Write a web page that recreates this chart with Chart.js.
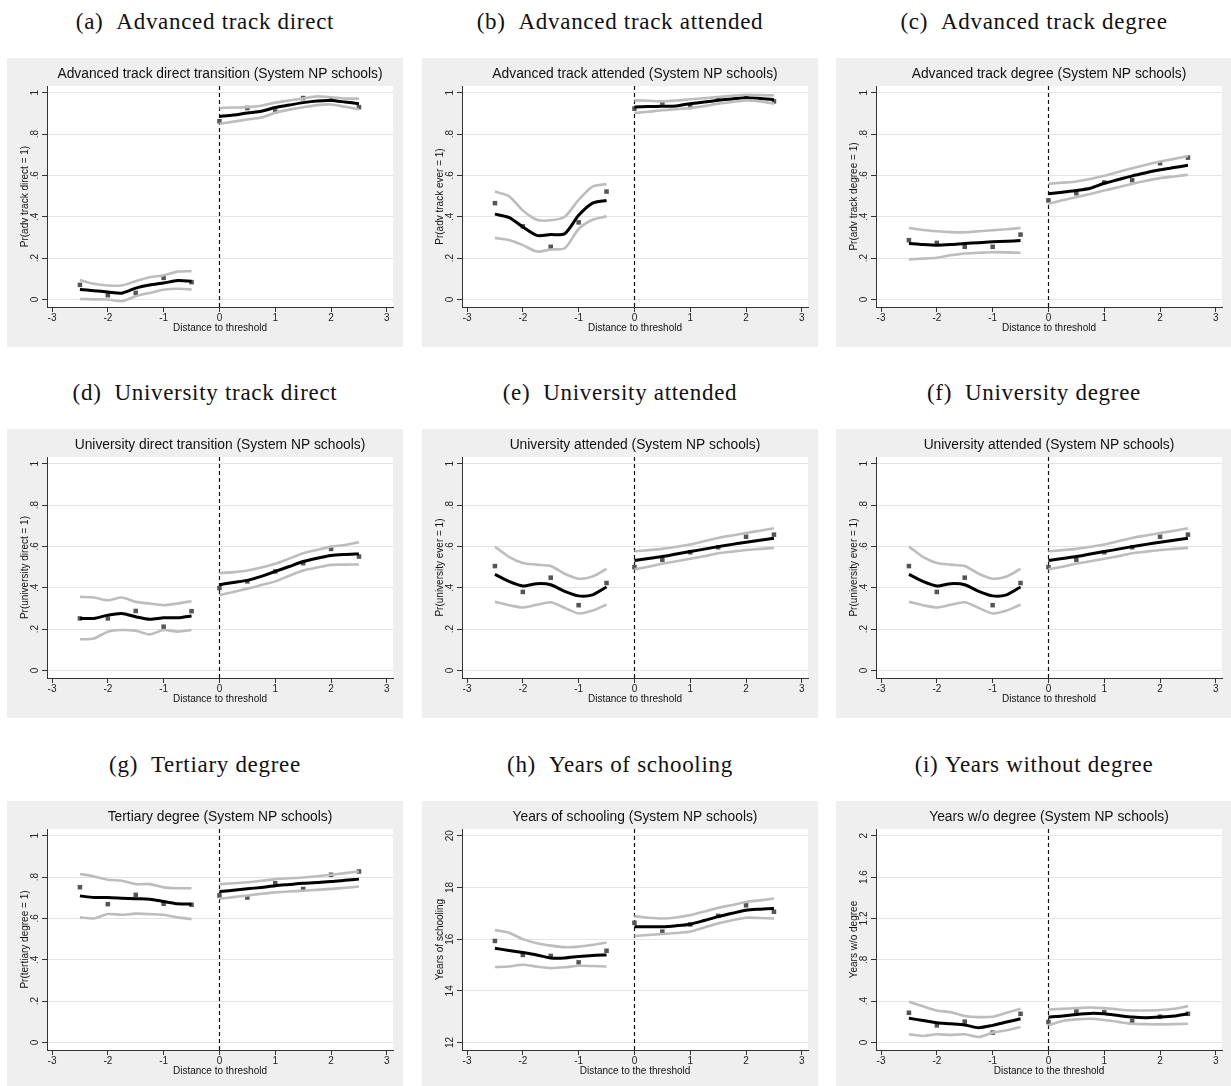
<!DOCTYPE html>
<html lang="en">
<head>
<meta charset="UTF-8">
<title>RD plots, System NP schools</title>
<script src="https://cdn.jsdelivr.net/npm/chart.js"></script>
<style>
  body { margin: 0; background: #fff; width: 1231px; height: 1086px; overflow: hidden; position: relative; }
  .cap { position: absolute; width: 396px; text-align: center; font-family: 'Liberation Serif', 'Times New Roman', serif;
         font-size: 23px; line-height: 24px; color: #111; letter-spacing: 0.7px; white-space: nowrap; }
  .panel { position: absolute; width: 396px; height: 289px; background: #efefef; }
  .panel canvas { display: block; }
</style>
</head>
<body>
<div class="cap" style="left:7px;top:10px">(a)&nbsp;&nbsp;Advanced track direct</div>
<div class="cap" style="left:422px;top:10px">(b)&nbsp;&nbsp;Advanced track attended</div>
<div class="cap" style="left:836px;top:10px">(c)&nbsp;&nbsp;Advanced track degree</div>
<div class="cap" style="left:7px;top:381px">(d)&nbsp;&nbsp;University track direct</div>
<div class="cap" style="left:422px;top:381px">(e)&nbsp;&nbsp;University attended</div>
<div class="cap" style="left:836px;top:381px">(f)&nbsp;&nbsp;University degree</div>
<div class="cap" style="left:7px;top:753px">(g)&nbsp;&nbsp;Tertiary degree</div>
<div class="cap" style="left:422px;top:753px">(h)&nbsp;&nbsp;Years of schooling</div>
<div class="cap" style="left:836px;top:753px">(i)&nbsp;Years without degree</div>

<div class="panel" style="left:7px;top:58px"><canvas id="pa" width="396" height="289"></canvas></div>
<div class="panel" style="left:422px;top:58px"><canvas id="pb" width="396" height="289"></canvas></div>
<div class="panel" style="left:836px;top:58px"><canvas id="pc" width="396" height="289"></canvas></div>
<div class="panel" style="left:7px;top:429px"><canvas id="pd" width="396" height="289"></canvas></div>
<div class="panel" style="left:422px;top:429px"><canvas id="pe" width="396" height="289"></canvas></div>
<div class="panel" style="left:836px;top:429px"><canvas id="pf" width="396" height="289"></canvas></div>
<div class="panel" style="left:7px;top:801px"><canvas id="pg" width="396" height="289"></canvas></div>
<div class="panel" style="left:422px;top:801px"><canvas id="ph" width="396" height="289"></canvas></div>
<div class="panel" style="left:836px;top:801px"><canvas id="pi" width="396" height="289"></canvas></div>

<script>
// x positions shared by all panels
const xFitL = [-2.5, -2.25, -2, -1.75, -1.5, -1.25, -1, -0.75, -0.5];
const xFitR = [0, 0.25, 0.5, 0.75, 1, 1.25, 1.5, 1.75, 2, 2.25, 2.5];
const xBins = [-2.5, -2, -1.5, -1, -0.5, 0, 0.5, 1, 1.5, 2, 2.5];
const xTicks = [-3, -2, -1, 0, 1, 2, 3];
const xRange = [-3.09, 3.11];
const thresholdX = 0;

// y axes
const probTicks = [0, 0.2, 0.4, 0.6, 0.8, 1];
const probLabels = ['0', '.2', '.4', '.6', '.8', '1'];
const probRange = [-0.036, 1.032];
const schoolTicks = [12, 14, 16, 18, 20];
const schoolLabels = ['12', '14', '16', '18', '20'];
const schoolRange = [11.71, 20.26];
const yearsTicks = [0, 0.4, 0.8, 1.2, 1.6, 2];
const yearsLabels = ['0', '.4', '.8', '1.2', '1.6', '2'];
const yearsRange = [-0.072, 2.064];

// (a) advanced track direct
const aFitL = [0.049, 0.043, 0.037, 0.031, 0.055, 0.070, 0.080, 0.092, 0.089];
const aUpL  = [0.094, 0.076, 0.068, 0.068, 0.089, 0.108, 0.117, 0.135, 0.137];
const aLoL  = [0.003, 0.001, 0.000, -0.008, 0.016, 0.032, 0.047, 0.052, 0.049];
const aFitR = [0.885, 0.892, 0.902, 0.910, 0.928, 0.940, 0.952, 0.960, 0.962, 0.955, 0.947];
const aUpR  = [0.926, 0.928, 0.930, 0.937, 0.952, 0.962, 0.972, 0.982, 0.978, 0.972, 0.971];
const aLoR  = [0.850, 0.860, 0.870, 0.880, 0.903, 0.918, 0.930, 0.940, 0.943, 0.932, 0.920];
const aBins = [0.071, 0.021, 0.032, 0.105, 0.084, 0.862, 0.926, 0.909, 0.974, 0.966, 0.930];

// (b) advanced track attended
const bFitL = [0.413, 0.397, 0.351, 0.310, 0.314, 0.318, 0.407, 0.466, 0.479];
const bUpL  = [0.522, 0.500, 0.431, 0.386, 0.383, 0.400, 0.482, 0.546, 0.558];
const bLoL  = [0.298, 0.288, 0.263, 0.232, 0.242, 0.248, 0.341, 0.386, 0.402];
const bFitR = [0.931, 0.933, 0.934, 0.936, 0.947, 0.955, 0.963, 0.970, 0.976, 0.972, 0.966];
const bUpR  = [0.963, 0.961, 0.958, 0.962, 0.968, 0.973, 0.979, 0.985, 0.990, 0.988, 0.987];
const bLoR  = [0.902, 0.908, 0.915, 0.920, 0.926, 0.935, 0.947, 0.955, 0.963, 0.958, 0.947];
const bBins = [0.466, 0.354, 0.255, 0.373, 0.522, 0.923, 0.952, 0.931, 0.971, 0.976, 0.958];

// (c) advanced track degree
const cFitL = [0.271, 0.266, 0.263, 0.266, 0.271, 0.275, 0.279, 0.282, 0.285];
const cUpL  = [0.346, 0.336, 0.330, 0.326, 0.325, 0.330, 0.335, 0.340, 0.346];
const cLoL  = [0.194, 0.198, 0.202, 0.214, 0.223, 0.226, 0.229, 0.228, 0.226];
const cFitR = [0.511, 0.519, 0.527, 0.538, 0.562, 0.580, 0.598, 0.613, 0.627, 0.638, 0.649];
const cUpR  = [0.559, 0.565, 0.571, 0.583, 0.598, 0.617, 0.635, 0.652, 0.667, 0.680, 0.694];
const cLoR  = [0.463, 0.480, 0.495, 0.510, 0.527, 0.543, 0.559, 0.574, 0.587, 0.595, 0.603];
const cBins = [0.287, 0.274, 0.255, 0.255, 0.314, 0.479, 0.514, 0.566, 0.577, 0.659, 0.686];

// (d) university direct
const dFitL = [0.252, 0.252, 0.268, 0.276, 0.260, 0.248, 0.255, 0.255, 0.264];
const dUpL  = [0.356, 0.353, 0.340, 0.353, 0.332, 0.324, 0.316, 0.324, 0.335];
const dLoL  = [0.151, 0.155, 0.188, 0.196, 0.192, 0.175, 0.196, 0.188, 0.196];
const dFitR = [0.415, 0.426, 0.436, 0.455, 0.479, 0.503, 0.527, 0.543, 0.556, 0.561, 0.564];
const dUpR  = [0.471, 0.476, 0.484, 0.498, 0.516, 0.541, 0.567, 0.583, 0.599, 0.607, 0.620];
const dLoR  = [0.364, 0.380, 0.396, 0.413, 0.431, 0.458, 0.484, 0.498, 0.511, 0.512, 0.513];
const dBins = [0.252, 0.252, 0.288, 0.212, 0.287, 0.399, 0.431, 0.479, 0.519, 0.588, 0.551];

// (e) university attended (panel f shows the same series)
const eFitL = [0.465, 0.431, 0.409, 0.420, 0.415, 0.383, 0.361, 0.366, 0.404];
const eUpL  = [0.599, 0.550, 0.520, 0.512, 0.505, 0.468, 0.444, 0.455, 0.492];
const eLoL  = [0.332, 0.316, 0.305, 0.318, 0.330, 0.303, 0.276, 0.290, 0.319];
const eFitR = [0.532, 0.542, 0.551, 0.563, 0.575, 0.587, 0.599, 0.610, 0.620, 0.630, 0.639];
const eUpR  = [0.577, 0.582, 0.588, 0.598, 0.609, 0.625, 0.641, 0.653, 0.665, 0.676, 0.688];
const eLoR  = [0.489, 0.502, 0.516, 0.528, 0.540, 0.553, 0.567, 0.575, 0.583, 0.588, 0.593];
const eBins = [0.505, 0.380, 0.449, 0.316, 0.423, 0.500, 0.535, 0.572, 0.596, 0.647, 0.657];

// (g) tertiary degree
const gFitL = [0.709, 0.701, 0.701, 0.698, 0.695, 0.693, 0.682, 0.671, 0.669];
const gUpL  = [0.815, 0.803, 0.787, 0.782, 0.766, 0.766, 0.750, 0.746, 0.746];
const gLoL  = [0.605, 0.600, 0.621, 0.618, 0.623, 0.621, 0.618, 0.605, 0.597];
const gFitR = [0.730, 0.736, 0.743, 0.750, 0.758, 0.764, 0.770, 0.774, 0.778, 0.784, 0.790];
const gUpR  = [0.766, 0.770, 0.775, 0.782, 0.790, 0.794, 0.798, 0.804, 0.811, 0.819, 0.827];
const gLoR  = [0.695, 0.703, 0.711, 0.719, 0.726, 0.730, 0.734, 0.738, 0.743, 0.748, 0.754];
const gBins = [0.751, 0.669, 0.714, 0.671, 0.666, 0.711, 0.701, 0.770, 0.742, 0.811, 0.827];

// (h) years of schooling
const hFitL = [15.65, 15.56, 15.48, 15.39, 15.27, 15.27, 15.33, 15.37, 15.39];
const hUpL  = [16.35, 16.25, 16.00, 15.84, 15.75, 15.69, 15.71, 15.78, 15.87];
const hLoL  = [14.92, 14.94, 15.01, 14.94, 14.88, 14.91, 14.97, 14.96, 14.94];
const hFitR = [16.48, 16.48, 16.48, 16.52, 16.58, 16.72, 16.87, 17.00, 17.12, 17.16, 17.19];
const hUpR  = [16.89, 16.83, 16.80, 16.84, 16.93, 17.07, 17.21, 17.32, 17.44, 17.50, 17.57];
const hLoR  = [16.12, 16.16, 16.20, 16.24, 16.29, 16.45, 16.61, 16.73, 16.83, 16.82, 16.80];
const hBins = [15.93, 15.39, 15.35, 15.10, 15.55, 16.63, 16.29, 16.57, 16.90, 17.31, 17.06];

// (i) years without degree
const iFitL = [0.234, 0.214, 0.192, 0.182, 0.170, 0.144, 0.166, 0.198, 0.230];
const iUpL  = [0.394, 0.352, 0.310, 0.294, 0.256, 0.246, 0.250, 0.288, 0.326];
const iLoL  = [0.080, 0.064, 0.080, 0.074, 0.080, 0.054, 0.096, 0.118, 0.150];
const iFitR = [0.246, 0.256, 0.272, 0.282, 0.278, 0.262, 0.246, 0.240, 0.246, 0.256, 0.278];
const iUpR  = [0.320, 0.326, 0.333, 0.339, 0.333, 0.320, 0.310, 0.310, 0.314, 0.326, 0.352];
const iLoR  = [0.166, 0.208, 0.224, 0.230, 0.218, 0.200, 0.182, 0.178, 0.176, 0.178, 0.182];
const iBins = [0.288, 0.166, 0.202, 0.096, 0.278, 0.198, 0.304, 0.294, 0.208, 0.250, 0.278];

Chart.defaults.font.family = "'Liberation Sans', Arial, Helvetica, sans-serif";

const plotBackground = {
  id: 'plotBackground',
  beforeDraw(chart) {
    const {ctx, chartArea} = chart;
    ctx.save();
    ctx.fillStyle = '#ffffff';
    ctx.fillRect(chartArea.left, chartArea.top, chartArea.right - chartArea.left, chartArea.bottom - chartArea.top);
    ctx.restore();
  }
};

const thresholdLine = {
  id: 'thresholdLine',
  beforeDatasetsDraw(chart) {
    const {ctx, chartArea, scales} = chart;
    const x = Math.round(scales.x.getPixelForValue(thresholdX)) + 0.5;
    ctx.save();
    ctx.strokeStyle = '#111';
    ctx.lineWidth = 1.2;
    ctx.setLineDash([4, 3]);
    ctx.beginPath();
    ctx.moveTo(x, chartArea.top);
    ctx.lineTo(x, chartArea.bottom);
    ctx.stroke();
    ctx.restore();
  }
};

function pts(xs, ys) {
  return xs.map((x, i) => ({x: x, y: ys[i]}));
}

// yPad keeps the rotated tick labels at the same distance from the axis whatever their width
function makePanel(id, title, yTitle, xTitle, yTicks, yLabels, yRange, yPad, fitL, upL, loL, fitR, upR, loR, bins) {
  const band = {borderColor: '#bdbdbd', borderWidth: 2.6, pointRadius: 0, tension: 0.25, fill: false};
  const fit = {borderColor: '#000000', borderWidth: 3, pointRadius: 0, tension: 0.25, fill: false};
  new Chart(document.getElementById(id), {
    type: 'line',
    data: {
      datasets: [
        {...band, data: pts(xFitL, upL)},
        {...band, data: pts(xFitL, loL)},
        {...band, data: pts(xFitR, upR)},
        {...band, data: pts(xFitR, loR)},
        {...fit, data: pts(xFitL, fitL)},
        {...fit, data: pts(xFitR, fitR)},
        {
          type: 'scatter', data: pts(xBins, bins), showLine: false,
          pointStyle: 'rect', pointRadius: 3.2, borderWidth: 0,
          backgroundColor: '#555555', borderColor: '#555555'
        }
      ]
    },
    options: {
      responsive: false,
      animation: false,
      devicePixelRatio: 1,
      layout: {padding: {left: 7, right: 10, top: 0, bottom: 11}},
      plugins: {
        legend: {display: false},
        tooltip: {enabled: false},
        title: {
          display: true, text: title, fullSize: false, color: '#111',
          font: {size: 13.8, weight: 'normal'},
          padding: {top: 7.5, bottom: 4}
        }
      },
      scales: {
        x: {
          type: 'linear', min: xRange[0], max: xRange[1],
          afterBuildTicks: s => { s.ticks = xTicks.map(v => ({value: v})); },
          afterFit: s => { s.height = 29; },
          ticks: {callback: v => String(v), color: '#222', font: {size: 10}, padding: 0, maxRotation: 0, autoSkip: false},
          grid: {drawOnChartArea: false, drawTicks: true, tickLength: 5, tickColor: '#333'},
          border: {color: '#333', width: 1},
          title: {display: true, text: xTitle, color: '#111', font: {size: 10}, padding: {top: 0, bottom: 1.7}}
        },
        y: {
          type: 'linear', min: yRange[0], max: yRange[1],
          afterBuildTicks: s => { s.ticks = yTicks.map(v => ({value: v})); },
          afterFit: s => { s.width = 33; },
          ticks: {
            callback: (v, i) => yLabels[i], minRotation: 90, maxRotation: 90, crossAlign: 'center',
            padding: yPad, color: '#222', font: {size: 10}, autoSkip: false
          },
          grid: {color: '#e4e4e4', lineWidth: 1, tickLength: 5, tickColor: '#333'},
          border: {color: '#333', width: 1},
          title: {display: true, text: yTitle, color: '#111', font: {size: 10}, padding: {top: 5, bottom: 0}}
        }
      }
    },
    plugins: [plotBackground, thresholdLine]
  });
}

const distLabel = 'Distance to threshold';
const distLabel2 = 'Distance to the threshold';

makePanel('pa', 'Advanced track direct transition (System NP schools)', 'Pr(adv track direct = 1)', distLabel,
  probTicks, probLabels, probRange, 3, aFitL, aUpL, aLoL, aFitR, aUpR, aLoR, aBins);
makePanel('pb', 'Advanced track attended (System NP schools)', 'Pr(adv track ever = 1)', distLabel,
  probTicks, probLabels, probRange, 3, bFitL, bUpL, bLoL, bFitR, bUpR, bLoR, bBins);
makePanel('pc', 'Advanced track degree (System NP schools)', 'Pr(adv track degree = 1)', distLabel,
  probTicks, probLabels, probRange, 3, cFitL, cUpL, cLoL, cFitR, cUpR, cLoR, cBins);
makePanel('pd', 'University direct transition (System NP schools)', 'Pr(university direct = 1)', distLabel,
  probTicks, probLabels, probRange, 3, dFitL, dUpL, dLoL, dFitR, dUpR, dLoR, dBins);
makePanel('pe', 'University attended (System NP schools)', 'Pr(university ever = 1)', distLabel,
  probTicks, probLabels, probRange, 3, eFitL, eUpL, eLoL, eFitR, eUpR, eLoR, eBins);
makePanel('pf', 'University attended (System NP schools)', 'Pr(university ever = 1)', distLabel,
  probTicks, probLabels, probRange, 3, eFitL, eUpL, eLoL, eFitR, eUpR, eLoR, eBins);
makePanel('pg', 'Tertiary degree (System NP schools)', 'Pr(tertiary degree = 1)', distLabel,
  probTicks, probLabels, probRange, 3, gFitL, gUpL, gLoL, gFitR, gUpR, gLoR, gBins);
makePanel('ph', 'Years of schooling (System NP schools)', 'Years of schooling', distLabel2,
  schoolTicks, schoolLabels, schoolRange, 1.5, hFitL, hUpL, hLoL, hFitR, hUpR, hLoR, hBins);
makePanel('pi', 'Years w/o degree (System NP schools)', 'Years w/o degree', distLabel2,
  yearsTicks, yearsLabels, yearsRange, 0, iFitL, iUpL, iLoL, iFitR, iUpR, iLoR, iBins);
</script>
</body>
</html>
